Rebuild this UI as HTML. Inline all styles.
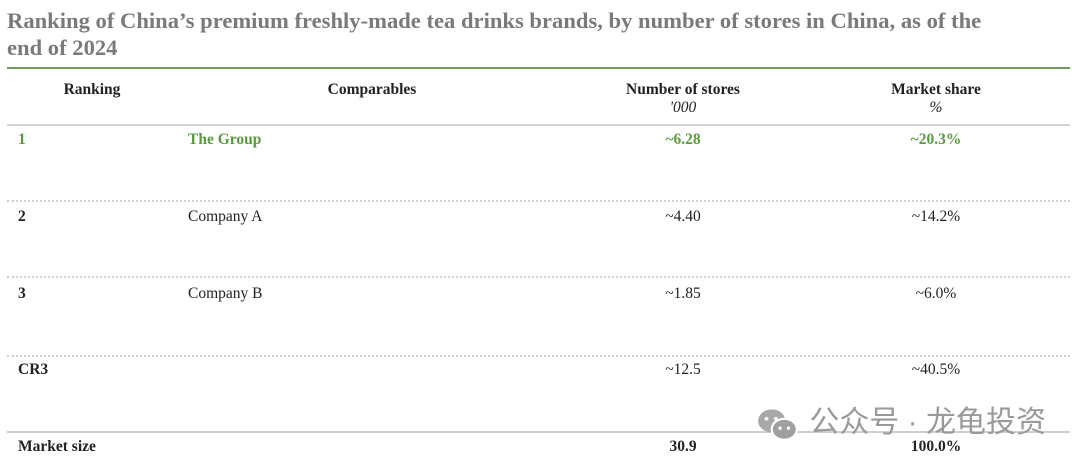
<!DOCTYPE html>
<html><head><meta charset="utf-8"><style>
body{margin:0;width:1080px;height:468px;background:#fff;position:relative;overflow:hidden;font-family:"Liberation Serif","Noto Serif CJK SC",serif;}
.t{position:absolute;white-space:nowrap;font-size:15.5px;color:#222;line-height:18px}
.b{font-weight:bold}
.g{color:#5a9a3e}
.c{transform:translateX(-50%)}
.line{position:absolute;left:7px;width:1063px}
</style></head><body>
<div class="t b" style="left:7px;top:7px;font-size:22.6px;line-height:27px;color:#7a7a7a;white-space:normal;width:1000px">Ranking of China’s premium freshly-made tea drinks brands, by number of stores in China, as of the end of 2024</div>
<div class="line" style="top:67px;height:2px;background:#6e9a5c"></div>
<div class="t b c" style="left:92px;top:81px">Ranking</div>
<div class="t b c" style="left:372px;top:81px">Comparables</div>
<div class="t b c" style="left:683px;top:81px;text-align:center">Number of stores<br><i style="font-weight:normal">'000</i></div>
<div class="t b c" style="left:936px;top:81px;text-align:center">Market share<br><i style="font-weight:normal">%</i></div>
<div class="line" style="top:124px;height:2px;background:#d4d4d4"></div>

<div class="t b g" style="left:18px;top:131px">1</div>
<div class="t b g" style="left:188px;top:131px">The Group</div>
<div class="t b g c" style="left:683px;top:131px">~6.28</div>
<div class="t b g c" style="left:936px;top:131px">~20.3%</div>
<div class="line" style="top:200px;border-top:2px dotted #cfcfcf"></div>

<div class="t b" style="left:18px;top:208px">2</div>
<div class="t" style="left:188px;top:208px">Company A</div>
<div class="t c" style="left:683px;top:208px">~4.40</div>
<div class="t c" style="left:936px;top:208px">~14.2%</div>
<div class="line" style="top:276px;border-top:2px dotted #cfcfcf"></div>

<div class="t b" style="left:18px;top:285px">3</div>
<div class="t" style="left:188px;top:285px">Company B</div>
<div class="t c" style="left:683px;top:285px">~1.85</div>
<div class="t c" style="left:936px;top:285px">~6.0%</div>
<div class="line" style="top:355px;border-top:2px dotted #cfcfcf"></div>

<div class="t b" style="left:18px;top:361px">CR3</div>
<div class="t c" style="left:683px;top:361px">~12.5</div>
<div class="t c" style="left:936px;top:361px">~40.5%</div>
<div class="line" style="top:431px;height:2px;background:#cfcfcf"></div>

<div class="t b" style="left:18px;top:438px">Market size</div>
<div class="t b c" style="left:683px;top:438px">30.9</div>
<div class="t b c" style="left:936px;top:438px">100.0%</div>

<div style="position:absolute;left:755px;top:405px;color:#9a9a9a;font-family:'Liberation Sans','Noto Sans CJK SC',sans-serif;font-size:30px;line-height:36px;white-space:nowrap">
<svg width="46" height="36" viewBox="0 0 44 34" style="vertical-align:middle"><ellipse cx="16" cy="14" rx="13" ry="11" fill="#a8a8a8"/><ellipse cx="28" cy="22" rx="12" ry="10" fill="#a0a0a0" stroke="#fff" stroke-width="2"/><circle cx="11" cy="12" r="1.8" fill="#fff"/><circle cx="20" cy="12" r="1.8" fill="#fff"/><circle cx="24" cy="21" r="1.6" fill="#fff"/><circle cx="32" cy="21" r="1.6" fill="#fff"/></svg> 公众号 · 龙龟投资</div>
</body></html>
